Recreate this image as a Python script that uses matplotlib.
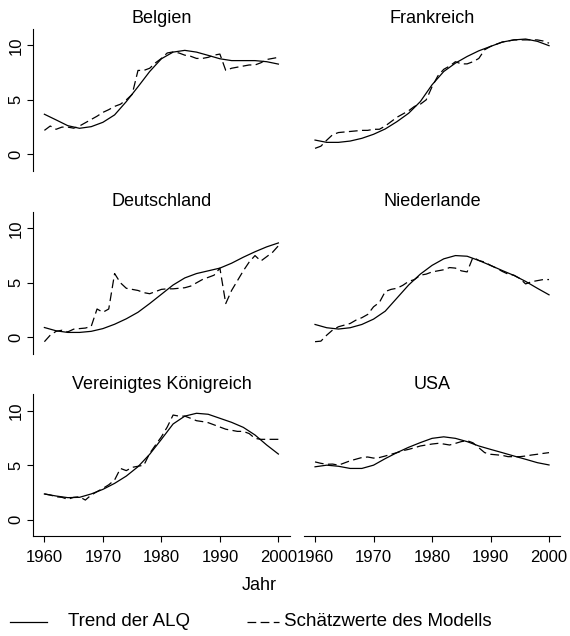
import numpy as np
import matplotlib
matplotlib.use("Agg")
import matplotlib.pyplot as plt
from matplotlib.lines import Line2D

years = np.arange(1960, 2001)
trend_years = np.arange(1960, 2001, 2)
x_ticks = [1960, 1970, 1980, 1990, 2000]
y_ticks = [0, 5, 10]

belgien_trend = [3.68, 3.16, 2.63, 2.39, 2.54, 2.94, 3.62, 4.84, 6.2, 7.6, 8.77,
                 9.38, 9.54, 9.38, 9.08, 8.77, 8.6, 8.6, 8.6, 8.5, 8.28]
belgien_est = [2.2, 2.6, 2.3, 2.5, 2.5, 2.4, 2.6, 2.9, 3.2, 3.5, 3.85, 4.1, 4.4, 4.6,
               5.0, 5.5, 7.7, 7.7, 7.9, 8.4, 8.8, 9.3, 9.4, 9.3, 9.1, 9.0, 8.8, 8.8,
               8.9, 9.1, 9.2, 7.7, 7.9, 8.0, 8.1, 8.2, 8.2, 8.4, 8.7, 8.8, 8.9]

frank_trend = [1.31, 1.1, 1.1, 1.22, 1.47, 1.84, 2.33, 3.0, 3.77, 4.84, 6.38,
               7.6, 8.37, 8.98, 9.5, 9.9, 10.3, 10.5, 10.58, 10.37, 9.97]
frank_est = [0.55, 0.75, 1.3, 1.8, 2.0, 2.05, 2.1, 2.15, 2.2, 2.2, 2.3, 2.3, 2.6, 3.0,
             3.4, 3.7, 4.0, 4.4, 4.6, 5.0, 6.2, 7.2, 7.8, 8.1, 8.5, 8.3, 8.3, 8.5,
             8.8, 9.6, 9.9, 10.1, 10.3, 10.4, 10.5, 10.5, 10.5, 10.5, 10.5, 10.4, 10.2]

deutsch_trend = [0.9, 0.6, 0.45, 0.45, 0.55, 0.8, 1.2, 1.7, 2.3, 3.1, 3.95,
                 4.8, 5.45, 5.85, 6.1, 6.35, 6.8, 7.35, 7.85, 8.3, 8.66]
deutsch_est = [-0.4, 0.2, 0.55, 0.65, 0.5, 0.75, 0.8, 0.85, 1.0, 2.6, 2.3, 2.6, 5.85,
               5.0, 4.5, 4.4, 4.3, 4.1, 4.0, 4.2, 4.4, 4.45, 4.45, 4.5, 4.55, 4.7,
               5.0, 5.3, 5.5, 5.7, 6.35, 3.1, 4.3, 5.2, 6.1, 6.9, 7.5, 7.0, 7.4, 7.8, 8.4]

niederl_trend = [1.18, 0.88, 0.76, 0.88, 1.18, 1.67, 2.4, 3.6, 4.8, 5.8, 6.6,
                 7.2, 7.5, 7.44, 7.05, 6.6, 6.13, 5.68, 5.13, 4.5, 3.9]
niederl_est = [-0.4, -0.35, 0.2, 0.67, 0.97, 1.12, 1.27, 1.58, 1.8, 2.1, 2.8, 3.2,
               4.2, 4.4, 4.5, 4.77, 5.13, 5.3, 5.7, 5.8, 6.0, 6.1, 6.2, 6.4, 6.35,
               6.1, 6.0, 7.35, 7.05, 6.9, 6.6, 6.35, 6.05, 5.8, 5.7, 5.4, 4.9, 5.1,
               5.2, 5.3, 5.3]

vk_trend = [2.36, 2.17, 2.02, 2.05, 2.36, 2.78, 3.33, 4.0, 4.86, 6.0, 7.37,
            8.78, 9.5, 9.76, 9.67, 9.3, 8.93, 8.47, 7.77, 6.85, 6.02]
vk_est = [2.36, 2.26, 2.1, 2.05, 1.87, 2.05, 2.1, 1.8, 2.26, 2.57, 2.87, 3.2, 3.64,
          4.7, 4.5, 4.8, 4.9, 5.0, 6.08, 6.85, 7.6, 8.5, 9.6, 9.5, 9.5, 9.3, 9.08,
          9.0, 8.9, 8.7, 8.5, 8.3, 8.2, 8.1, 8.1, 7.9, 7.46, 7.37, 7.37, 7.37, 7.37]

usa_trend = [4.85, 5.0, 4.9, 4.7, 4.7, 5.0, 5.6, 6.15, 6.64, 7.07, 7.46,
             7.6, 7.46, 7.16, 6.76, 6.45, 6.15, 5.84, 5.54, 5.23, 5.02]
usa_est = [5.3, 5.17, 5.08, 5.1, 5.0, 5.2, 5.4, 5.55, 5.7, 5.75, 5.65, 5.7, 5.84,
           6.0, 6.15, 6.33, 6.45, 6.6, 6.76, 6.85, 6.94, 7.0, 6.94, 6.85, 7.0, 7.16,
           7.25, 7.05, 6.6, 6.15, 6.0, 5.95, 5.9, 5.78, 5.78, 5.78, 5.84, 5.93, 6.0,
           6.08, 6.15]

panels = [
    ("Belgien", belgien_trend, belgien_est),
    ("Frankreich", frank_trend, frank_est),
    ("Deutschland", deutsch_trend, deutsch_est),
    ("Niederlande", niederl_trend, niederl_est),
    ("Vereinigtes Königreich", vk_trend, vk_est),
    ("USA", usa_trend, usa_est),
]

plt.rcParams["font.family"] = ["Liberation Sans", "DejaVu Sans"]
dash = (0, (7, 3.5))

fig = plt.figure(figsize=(5.7, 6.36), dpi=100)
lefts = [0.0584, 0.5332]
bottoms = [0.7316, 0.4439, 0.1572]
w, h = 0.4495, 0.2228

for i, (name, trend, est) in enumerate(panels):
    row, col = i // 2, i % 2
    ax = fig.add_axes([lefts[col], bottoms[row], w, h])
    ax.plot(trend_years, trend, color="black", lw=0.9)
    ax.plot(years, est, color="black", lw=0.9, ls=dash)
    ax.set_xlim(1958.1, 2001.9)
    ax.set_ylim(-1.5, 11.5)
    ax.set_title(name, fontsize=13, pad=4)
    for s in ["top", "right"]:
        ax.spines[s].set_visible(False)
    ax.spines["left"].set_visible(col == 0)
    ax.spines["bottom"].set_visible(row == 2)
    ax.tick_params(length=4, width=0.8, direction="out")
    if col == 0:
        ax.set_yticks(y_ticks)
        ax.set_yticklabels([str(v) for v in y_ticks], rotation=90, va="center",
                           fontsize=12)
        ax.tick_params(axis="y", pad=3)
    else:
        ax.set_yticks([])
    if row == 2:
        ax.set_xticks(x_ticks)
        ax.set_xticklabels([str(v) for v in x_ticks], fontsize=12)
        ax.tick_params(axis="x", pad=6)
    else:
        ax.set_xticks([])

fig.text(0.455, 1 - 586 / 636, "Jahr", ha="center", va="center", fontsize=13)

# Legende unten
y_leg = 1 - 622 / 636
fig.add_artist(Line2D([10 / 570, 47 / 570], [y_leg, y_leg], color="black", lw=0.9))
fig.text(68 / 570, y_leg, "Trend der ALQ", va="center", fontsize=13.5)
fig.add_artist(Line2D([247 / 570, 279 / 570], [y_leg, y_leg], color="black", lw=0.9,
                      ls=dash))
fig.text(284 / 570, y_leg, "Schätzwerte des Modells", va="center", fontsize=13.5)

fig.savefig("out.png", dpi=100)
